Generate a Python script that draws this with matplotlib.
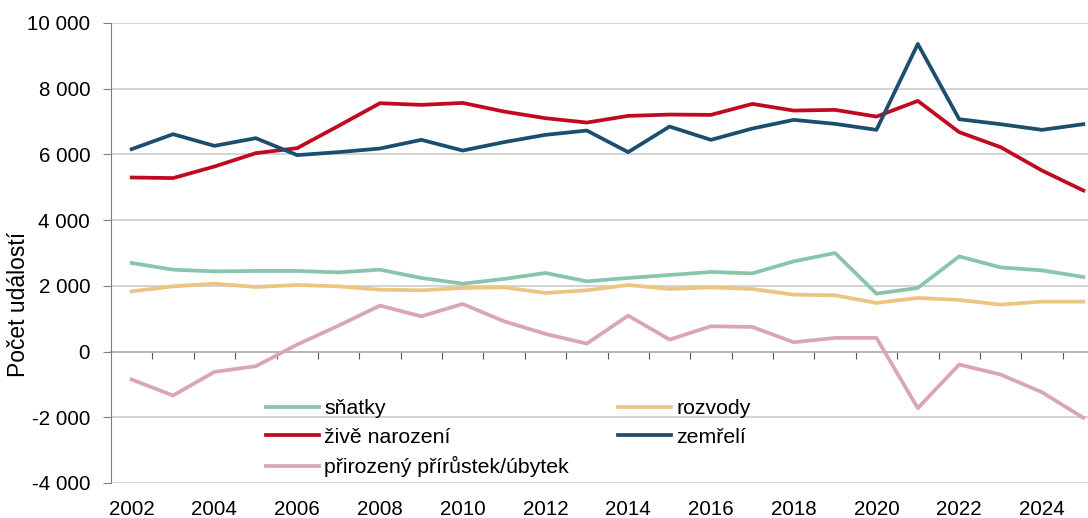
import numpy as np
import matplotlib
matplotlib.use('Agg')
import matplotlib.pyplot as plt
from matplotlib.ticker import FuncFormatter

# data
years = list(range(2002, 2026))
snatky = [2696, 2492, 2441, 2453, 2453, 2410, 2492, 2240, 2067, 2210, 2392, 2137,
          2240, 2331, 2422, 2380, 2745, 3000, 1763, 1936, 2897, 2562, 2471, 2270]
rozvody = [1833, 1985, 2067, 1966, 2027, 1985, 1884, 1864, 1936, 1955, 1784, 1864,
           2027, 1905, 1955, 1905, 1733, 1712, 1480, 1632, 1571, 1429, 1520, 1520]
narozeni = [5298, 5280, 5632, 6039, 6191, 6869, 7559, 7508, 7568, 7305, 7103, 6970,
            7173, 7213, 7204, 7538, 7335, 7356, 7152, 7629, 6678, 6222, 5511, 4903]
zemreli = [6161, 6616, 6261, 6495, 5979, 6070, 6180, 6444, 6119, 6374, 6596, 6727,
           6070, 6848, 6444, 6788, 7052, 6930, 6748, 9362, 7072, 6920, 6748, 6920]
prirustek = [-851, -1337, -618, -446, 213, 790, 1398, 1074, 1449, 921, 537, 243,
             1094, 365, 770, 750, 283, 416, 416, -1723, -395, -699, -1236, -2016]
year_labels = [str(y) for y in range(2002, 2025, 2)]

plt.rcParams['font.family'] = ['Liberation Sans', 'DejaVu Sans']
FS = 14.8

W, H = 1088, 518
fig = plt.figure(figsize=(W / 100, H / 100), dpi=100)
# plot area runs past the right edge, as in the cropped original
ax = fig.add_axes([111 / W, (H - 483) / H, (1104 - 111) / W, (483 - 23) / H])

ax.plot(years, prirustek, color='#D9A5B7', lw=2.7, label='přirozený přírůstek/úbytek')
ax.plot(years, rozvody, color='#EBC581', lw=2.7, label='rozvody')
ax.plot(years, snatky, color='#88C5AB', lw=2.7, label='sňatky')
ax.plot(years, narozeni, color='#C00A22', lw=2.7, label='živě narození')
ax.plot(years, zemreli, color='#1B4E6F', lw=2.7, label='zemřelí')

ax.set_xlim(2001.5, 2025.5)
ax.set_ylim(-4000, 10000)
ax.set_yticks(np.arange(-4000, 10001, 2000))
ax.yaxis.set_major_formatter(FuncFormatter(lambda v, p: f'{v:,.0f}'.replace(',', ' ')))
ax.grid(axis='y', color='#C8C8C8', lw=1.1)
ax.set_axisbelow(True)

for s in ['top', 'right', 'bottom']:
    ax.spines[s].set_visible(False)
ax.spines['left'].set_color('#7F7F7F')
ax.tick_params(axis='y', length=6, color='#7F7F7F', pad=9, labelsize=FS)

ax.set_xticks(range(2002, 2025, 2))
ax.set_xticklabels(year_labels)
ax.tick_params(axis='x', length=0, pad=12, labelsize=FS)

# category axis sitting at zero with ticks between years
zero_ax = ax.secondary_xaxis(4000 / 14000)
zero_ax.set_xticks(np.arange(2002.5, 2025.6, 1))
zero_ax.tick_params(axis='x', direction='out', length=5, color='#595959', labelbottom=False)
zero_ax.spines['bottom'].set_color('#595959')
zero_ax.spines['bottom'].set_linewidth(1.1)

fig.text(19 / W, 1 - 304 / H, 'Počet událostí', rotation=90, ha='center', va='center',
         fontsize=16.5)

h, l = ax.get_legend_handles_labels()
order = [2, 3, 0, 1, 4]
ax.legend([h[i] for i in order], [l[i] for i in order], ncol=2, frameon=False,
          loc='upper left', bbox_to_anchor=(266 / W, 1 - 399 / H),
          bbox_transform=fig.transFigure, borderpad=0, borderaxespad=0,
          handlelength=2.5, handletextpad=0.25, labelspacing=0.45,
          columnspacing=2.3, fontsize=15.3)

fig.savefig('out.png', dpi=100)
